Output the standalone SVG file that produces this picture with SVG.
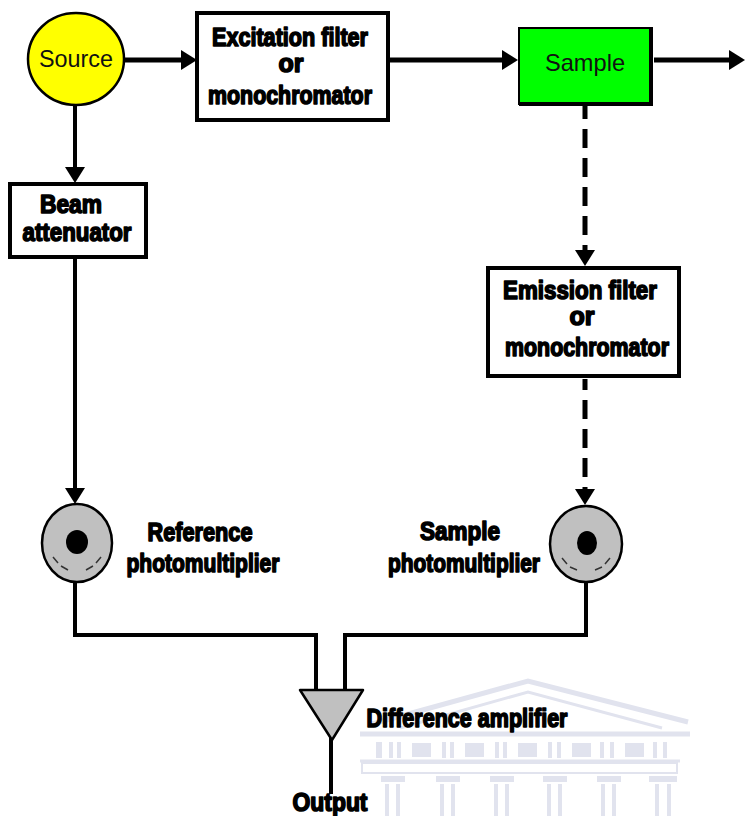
<svg xmlns="http://www.w3.org/2000/svg" width="747" height="816" viewBox="0 0 747 816">
<defs>
<style>
.box{fill:#fff;stroke:#000;stroke-width:4}
.lbl{font-family:"Liberation Sans",Arial,sans-serif;font-weight:bold;font-size:25px;fill:#000;stroke:#000;stroke-width:1.6;stroke-linejoin:round;text-anchor:middle}
.plain{font-family:"Liberation Sans",Arial,sans-serif;font-size:24px;fill:#111;text-anchor:middle}
.wire{fill:none;stroke:#000;stroke-width:4}
.thick{stroke-width:5}
.dash{stroke-dasharray:19 10}
.pm{fill:#c0c0c0;stroke:#000;stroke-width:2.5}
.arc{fill:none;stroke:#333;stroke-width:1.5}
.wm{fill:none;stroke:#e1e3ee}
.wmf{fill:#e1e3ee}
</style>
<marker id="ah" viewBox="0 0 16 20" refX="6" refY="10" markerWidth="16" markerHeight="20" markerUnits="userSpaceOnUse" orient="auto">
<path d="M0,0 L16,10 L0,20 z" fill="#000"/>
</marker>
</defs>
<rect width="747" height="816" fill="#fff"/>

<!-- faint temple emblem in the lower right -->
<g id="emblem">
<polyline class="wm" stroke-width="5" points="372,724 528,681 688,722"/>
<polyline class="wm" stroke-width="3" points="400,728 528,692 662,728"/>
<line class="wm" stroke-width="5" x1="360" y1="734" x2="690" y2="734"/>
<g class="wmf">
<rect x="376" y="742" width="6" height="16"/>
<rect x="389" y="742" width="4" height="16"/><rect x="397" y="742" width="4" height="16"/><rect x="412" y="743" width="19" height="14"/>
<rect x="442" y="742" width="4" height="16"/><rect x="450" y="742" width="4" height="16"/><rect x="465" y="743" width="19" height="14"/>
<rect x="495" y="742" width="4" height="16"/><rect x="503" y="742" width="4" height="16"/><rect x="518" y="743" width="19" height="14"/>
<rect x="548" y="742" width="4" height="16"/><rect x="557" y="742" width="4" height="16"/><rect x="572" y="743" width="19" height="14"/>
<rect x="600" y="742" width="4" height="16"/><rect x="610" y="742" width="4" height="16"/><rect x="625" y="743" width="19" height="14"/>
<rect x="653" y="742" width="4" height="16"/><rect x="663" y="742" width="4" height="16"/>
</g>
<line class="wm" stroke-width="3" x1="360" y1="761" x2="680" y2="761"/>
<rect class="wm" stroke-width="2" x="362" y="763" width="315" height="10"/>
<g class="wmf">
<rect x="381" y="776" width="24" height="6"/><rect x="436" y="776" width="24" height="6"/><rect x="490" y="776" width="24" height="6"/>
<rect x="543" y="776" width="24" height="6"/><rect x="597" y="776" width="24" height="6"/><rect x="649" y="776" width="28" height="6"/>
<rect x="385" y="784" width="4" height="32"/><rect x="396" y="784" width="4" height="32"/>
<rect x="440" y="784" width="4" height="32"/><rect x="451" y="784" width="4" height="32"/>
<rect x="494" y="784" width="4" height="32"/><rect x="505" y="784" width="4" height="32"/>
<rect x="547" y="784" width="4" height="32"/><rect x="558" y="784" width="4" height="32"/>
<rect x="601" y="784" width="4" height="32"/><rect x="612" y="784" width="4" height="32"/>
<rect x="655" y="784" width="4" height="32"/><rect x="667" y="784" width="4" height="32"/>
</g>
</g>

<!-- light path and signal wiring -->
<g id="connectors">
<path class="wire thick" d="M125,60 H187" marker-end="url(#ah)"/>
<path class="wire thick" d="M388,60 H508" marker-end="url(#ah)"/>
<path class="wire thick" d="M654,60 H735" marker-end="url(#ah)"/>
<path class="wire" d="M75,106 V173" marker-end="url(#ah)"/>
<path class="wire" d="M75,258 V494" marker-end="url(#ah)"/>
<path class="wire thick dash" stroke-dashoffset="6" d="M585,106 V256" marker-end="url(#ah)"/>
<path class="wire thick dash" stroke-dashoffset="8" d="M585,379 V495" marker-end="url(#ah)"/>
<path class="wire" d="M75,582 V635 H316 V691"/>
<path class="wire" d="M586,582 V635 H345 V691"/>
<path class="wire" d="M331,738 V794"/>
</g>

<g id="source">
<ellipse cx="76" cy="59" rx="48" ry="46" fill="#ffff00" stroke="#000" stroke-width="2.5"/>
<text class="plain" x="76" y="67" textLength="74" lengthAdjust="spacingAndGlyphs">Source</text>
</g>

<g id="excitation">
<rect class="box" x="197" y="13" width="191" height="107"/>
<text class="lbl" x="290" y="46" textLength="156" lengthAdjust="spacingAndGlyphs">Excitation filter</text>
<text class="lbl" x="291" y="72">or</text>
<text class="lbl" x="290" y="104" textLength="164" lengthAdjust="spacingAndGlyphs">monochromator</text>
</g>

<g id="sample">
<rect x="519" y="28" width="133" height="76" fill="#00ff00" stroke="#000" stroke-width="2"/>
<path d="M651,28 V104 H519" fill="none" stroke="#000" stroke-width="4"/>
<text class="plain" x="585" y="71" font-size="22" textLength="80" lengthAdjust="spacingAndGlyphs">Sample</text>
</g>

<g id="attenuator">
<rect class="box" x="10" y="184" width="136" height="73"/>
<text class="lbl" x="71" y="213" textLength="62" lengthAdjust="spacingAndGlyphs">Beam</text>
<text class="lbl" x="77" y="241" textLength="109" lengthAdjust="spacingAndGlyphs">attenuator</text>
</g>

<g id="emission">
<rect class="box" x="488" y="268" width="191" height="108"/>
<text class="lbl" x="580" y="299" textLength="154" lengthAdjust="spacingAndGlyphs">Emission filter</text>
<text class="lbl" x="582" y="325">or</text>
<text class="lbl" x="587" y="356" textLength="164" lengthAdjust="spacingAndGlyphs">monochromator</text>
</g>

<g id="reference-pm">
<ellipse class="pm" cx="77" cy="543" rx="35" ry="39"/>
<ellipse cx="77" cy="542" rx="11" ry="12" fill="#000"/>
<path class="arc" d="M53,557 L58,563 M61,566 L68,570 M86,570 L93,566 M96,563 L101,557"/>
<text class="lbl" x="200" y="541" textLength="105" lengthAdjust="spacingAndGlyphs">Reference</text>
<text class="lbl" x="203" y="572" textLength="153" lengthAdjust="spacingAndGlyphs">photomultiplier</text>
</g>

<g id="sample-pm">
<ellipse class="pm" cx="586" cy="544" rx="36" ry="38"/>
<ellipse cx="587" cy="543" rx="10" ry="12" fill="#000"/>
<path class="arc" d="M562,558 L567,564 M570,567 L577,570 M595,570 L602,567 M605,564 L610,558"/>
<text class="lbl" x="460" y="540" textLength="80" lengthAdjust="spacingAndGlyphs">Sample</text>
<text class="lbl" x="464" y="572" textLength="152" lengthAdjust="spacingAndGlyphs">photomultiplier</text>
</g>

<g id="amplifier">
<polygon points="300,690 363,690 332,740" fill="#c0c0c0" stroke="#000" stroke-width="2.5" stroke-linejoin="round"/>
<text class="lbl" x="467" y="727" textLength="201" lengthAdjust="spacingAndGlyphs">Difference amplifier</text>
</g>

<g id="output">
<text class="lbl" x="330" y="811" textLength="75" lengthAdjust="spacingAndGlyphs">Output</text>
</g>
</svg>
